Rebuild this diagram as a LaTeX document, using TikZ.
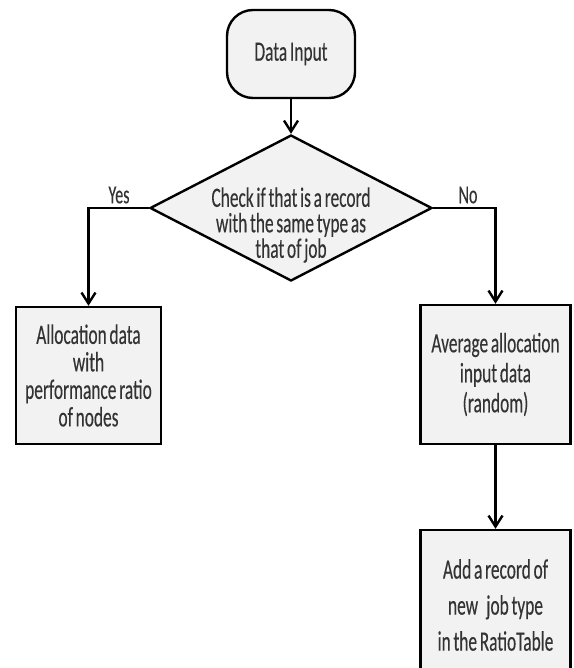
\documentclass[tikz,border=0pt]{standalone}
\usepackage{fontspec}
\setmainfont[FakeStretch=0.62,FakeBold=0.25,WordSpace=0.7]{Carlito}
\usetikzlibrary{shapes.geometric,arrows.meta}
\tikzset{
  shp/.style={draw=black, line width=2.4pt, fill=black!5, inner sep=0pt},
  procbox/.style={shp, rectangle, align=center, text=black!80},
  txt/.style={align=center, text=black!80, inner sep=0pt},
  conn/.style={line width=2.4pt, -{Straight Barb[length=11pt,width=14pt,line width=2.4pt]}},
  lbl/.style={text=black!80, inner sep=0pt, font=\fontsize{26}{28}\selectfont}
}
\begin{document}
\begin{tikzpicture}[x=1pt,y=-1pt]
\useasboundingbox (0,0) rectangle (573,668);
% start
\node[procbox, rounded corners=26pt, minimum width=128pt, minimum height=88pt,
      font=\fontsize{28}{30}\selectfont] (start) at (291,54) {Data Input};
% decision
\node[shp, diamond, aspect=1.93, minimum width=282pt, minimum height=146pt] (dec) at (291,208) {};
\node[txt, font=\fontsize{28}{25.5}\selectfont] (dect) at (291,225)
  {Check if that is a record\\with the same type as\\that of job};
% left box
\node[procbox, minimum width=145pt, minimum height=137pt,
      font=\fontsize{28}{27.5}\selectfont] (left) at (88.5,375.5)
  {Allocation data\\with\\performance ratio\\of nodes};
% right box
\node[procbox, minimum width=150pt, minimum height=139pt,
      font=\fontsize{28}{30}\selectfont] (right) at (495.5,374.5)
  {Average allocation\\input data\\(random)};
% lower box
\node[procbox, minimum width=150pt, minimum height=150pt,
      font=\fontsize{28}{36}\selectfont] (low) at (495.5,605)
  {Add a record of\\new\ \ \ job type\\in the RatioTable};
% connectors
\draw[conn] (start.south) -- (dec.north);
\draw[conn] (dec.west) -| (left.north);
\draw[conn] (dec.east) -| (right.north);
\draw[conn] (right.south) -- (low.north);
% labels
\node[lbl] (yes) at (119,195) {Yes};
\node[lbl] (no) at (468,195) {No};
\end{tikzpicture}
\end{document}
